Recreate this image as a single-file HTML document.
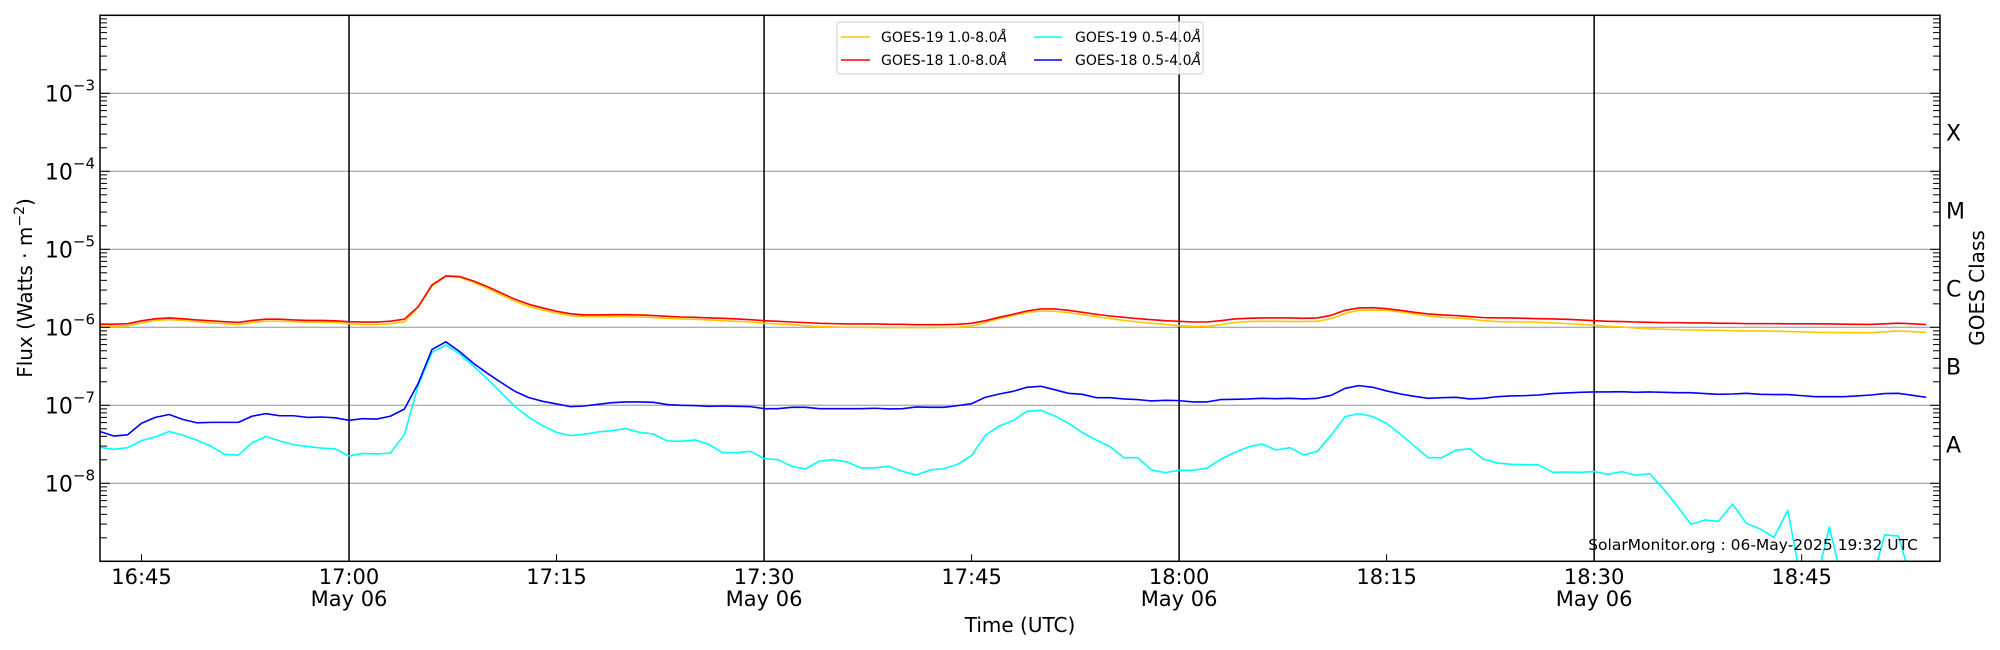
<!DOCTYPE html>
<html><head><meta charset="utf-8"><style>
html,body{margin:0;padding:0;background:#fff;}
svg{display:block;font-family:"DejaVu Sans","Liberation Sans",sans-serif;}
</style></head><body>
<svg id="chart" width="2000" height="650" viewBox="0 0 2000 650" xmlns="http://www.w3.org/2000/svg">
<defs><clipPath id="plotclip"><rect x="100" y="15" width="1840" height="546"/></clipPath></defs>
<rect x="0" y="0" width="2000" height="650" fill="#fff"/>
<g id="grid"></g>
<g id="vlines"></g>
<g id="series" clip-path="url(#plotclip)"></g>
<g id="axes"></g>
<rect x="100" y="15.3" width="1840" height="546" fill="none" stroke="#000" stroke-width="1.5"/>
<text transform="translate(32,288) rotate(-90)" text-anchor="middle" font-size="20">Flux (Watts · m<tspan font-size="14" dy="-8">−2</tspan><tspan dy="8">)</tspan></text>
<text transform="translate(1984,288) rotate(-90)" text-anchor="middle" font-size="20">GOES Class</text>
<text x="1020" y="632" text-anchor="middle" font-size="20">Time (UTC)</text>
<text x="1918" y="550" text-anchor="end" font-size="15.5">SolarMonitor.org : 06-May-2025 19:32 UTC</text>
<g>
<rect x="837" y="22" width="366" height="52" rx="3" fill="#fff" fill-opacity="0.85" stroke="#ccc" stroke-width="1"/>
<g><line x1="841" y1="37" x2="870" y2="37" stroke="#ffc800" stroke-width="1.5"/><text x="881" y="42" font-size="14">GOES-19 1.0-8.0<tspan font-style="italic">Å</tspan></text></g>
<g><line x1="841" y1="60" x2="870" y2="60" stroke="#ff0000" stroke-width="1.5"/><text x="881" y="65" font-size="14">GOES-18 1.0-8.0<tspan font-style="italic">Å</tspan></text></g>
<g><line x1="1034" y1="37" x2="1062" y2="37" stroke="#00ffff" stroke-width="1.5"/><text x="1075" y="42" font-size="14">GOES-19 0.5-4.0<tspan font-style="italic">Å</tspan></text></g>
<g><line x1="1034" y1="60" x2="1062" y2="60" stroke="#0000ff" stroke-width="1.5"/><text x="1075" y="65" font-size="14">GOES-18 0.5-4.0<tspan font-style="italic">Å</tspan></text></g>
</g>
</svg>
<script>
// Data: log10 flux (W/m^2), one sample per minute starting 16:42 UTC
const startMinute = 16*60+42;
const g18Long = [-5.96,-5.96,-5.954,-5.917,-5.891,-5.88,-5.891,-5.906,-5.917,-5.928,-5.938,-5.912,-5.896,-5.896,-5.906,-5.912,-5.912,-5.917,-5.928,-5.933,-5.933,-5.922,-5.896,-5.736,-5.457,-5.342,-5.35,-5.406,-5.479,-5.56,
-5.641,-5.705,-5.752,-5.795,-5.825,-5.842,-5.842,-5.838,-5.838,-5.842,-5.85,-5.859,-5.868,-5.872,-5.88,-5.885,-5.893,-5.902,-5.915,-5.923,-5.932,-5.94,-5.949,
-5.953,-5.957,-5.957,-5.957,-5.962,-5.962,-5.966,-5.966,-5.966,-5.962,-5.949,-5.915,-5.872,-5.833,-5.791,-5.765,-5.765,-5.782,-5.808,-5.833,-5.855,-5.872,-5.889,-5.902,-5.915,-5.923,-5.932,-5.932,-5.915,-5.893,-5.885,-5.88,-5.88,-5.88,
-5.885,-5.88,-5.846,-5.782,-5.752,-5.748,-5.761,-5.782,-5.808,-5.829,-5.842,-5.85,-5.863,-5.876,-5.88,-5.88,-5.885,-5.889,-5.893,-5.897,-5.906,-5.915,-5.923,-5.927,-5.932,-5.936,-5.94,-5.94,-5.944,-5.944,-5.949,-5.949,-5.953,-5.953,
-5.953,-5.955,-5.955,-5.955,-5.957,-5.96,-5.962,-5.963,-5.955,-5.947,-5.955,-5.965];
const g19Long = [-5.986,-5.986,-5.981,-5.944,-5.912,-5.901,-5.912,-5.928,-5.944,-5.954,-5.965,-5.938,-5.922,-5.922,-5.928,-5.933,-5.933,-5.938,-5.954,-5.965,-5.965,-5.954,-5.932,
-5.744,-5.47,-5.346,-5.359,-5.423,-5.5,-5.585,-5.667,-5.731,-5.778,-5.821,-5.85,-5.863,-5.863,-5.863,-5.863,-5.868,-5.876,-5.885,-5.893,-5.897,-5.906,-5.915,-5.923,-5.932,-5.949,-5.957,-5.966,-5.979,-5.991,
-5.996,-6.0,-6.0,-6.002,-6.004,-6.004,-6.004,-6.004,-6.002,-6.0,-5.983,-5.94,-5.889,-5.85,-5.812,-5.791,-5.795,-5.812,-5.838,-5.863,-5.889,-5.91,-5.932,-5.949,-5.962,-5.979,-5.987,-5.987,-5.966,-5.94,-5.927,-5.923,-5.923,-5.927,
-5.927,-5.923,-5.889,-5.821,-5.782,-5.778,-5.782,-5.803,-5.829,-5.855,-5.872,-5.88,-5.893,-5.915,-5.927,-5.932,-5.932,-5.936,-5.944,-5.953,-5.962,-5.974,-5.987,-5.996,-6.008,-6.02,-6.025,-6.03,-6.034,-6.038,-6.038,-6.043,-6.047,-6.047,
-6.05,-6.055,-6.058,-6.064,-6.066,-6.068,-6.069,-6.069,-6.058,-6.048,-6.055,-6.064];
const g18Short = [-7.336,-7.394,-7.378,-7.23,-7.155,-7.118,-7.182,-7.224,-7.219,-7.219,-7.219,-7.139,-7.107,-7.134,-7.134,-7.155,-7.15,-7.16,-7.192,-7.171,-7.176,-7.139,-7.049,-6.719,-6.284,-6.186,-6.312,-6.462,-6.59,-6.709,
-6.821,-6.902,-6.949,-6.983,-7.017,-7.009,-6.987,-6.966,-6.957,-6.957,-6.962,-6.991,-7.0,-7.004,-7.013,-7.009,-7.013,-7.017,-7.043,-7.043,-7.026,-7.026,-7.043,
-7.043,-7.043,-7.043,-7.038,-7.047,-7.043,-7.021,-7.026,-7.026,-7.004,-6.979,-6.897,-6.855,-6.821,-6.769,-6.756,-6.8,
-6.846,-6.859,-6.902,-6.902,-6.919,-6.927,-6.944,-6.936,-6.94,-6.957,-6.957,-6.927,-6.923,-6.919,-6.91,-6.915,-6.91,-6.919,-6.91,-6.872,-6.782,-6.748,-6.769,-6.816,-6.855,-6.885,-6.91,-6.902,-6.897,-6.919,-6.91,-6.889,-6.88,-6.876,-6.868,
-6.85,-6.842,-6.833,-6.829,-6.829,-6.825,-6.833,-6.829,-6.833,-6.838,-6.838,-6.85,-6.859,-6.855,-6.846,-6.859,-6.863,-6.863,-6.876,-6.889,-6.889,-6.889,-6.88,-6.868,-6.85,-6.846,-6.872,-6.897];
const g19Short = [-7.538,-7.564,-7.543,-7.453,-7.405,-7.336,-7.384,-7.447,-7.522,-7.628,-7.639,-7.479,-7.4,-7.458,-7.506,-7.527,-7.548,-7.559,-7.649,-7.617,-7.623,-7.612,-7.378,-6.746,-6.321,
-6.226,-6.342,-6.496,-6.662,-6.838,-7.017,-7.154,-7.261,-7.346,
-7.389,-7.372,-7.342,-7.325,-7.299,-7.346,-7.368,-7.457,-7.462,-7.444,-7.5,-7.607,-7.607,-7.59,-7.684,-7.697,-7.782,-7.816,-7.714,-7.697,-7.726,-7.803,-7.803,-7.782,-7.846,-7.893,-7.829,-7.812,-7.756,-7.645,-7.385,-7.265,-7.197,-7.077,-7.064,-7.135,
-7.231,-7.35,-7.444,-7.53,-7.671,-7.671,-7.829,-7.863,-7.833,-7.833,-7.808,-7.692,-7.607,-7.534,-7.496,-7.573,-7.543,-7.637,-7.59,-7.38,-7.145,-7.107,-7.145,-7.231,-7.372,-7.521,-7.671,-7.671,-7.577,-7.556,-7.692,-7.739,
-7.756,-7.761,-7.765,-7.859,-7.855,-7.859,-7.85,-7.885,-7.85,-7.897,-7.876,-8.068,-8.291,-8.526,-8.47,-8.487,-8.265,-8.513,-8.585,-8.692,-8.346,-9.3,-9.3,-8.56,-9.3,-9.3,-9.3,-8.662,-8.675,-9.3,-9.3];
const yTickExps = [-3,-4,-5,-6,-7,-8];
const classLabels = ["X","M","C","B","A"];
const classExps = [-3.5,-4.5,-5.5,-6.5,-7.5];
const xTickMinutes = [16*60+45,17*60,17*60+15,17*60+30,17*60+45,18*60,18*60+15,18*60+30,18*60+45];
const xTickLabels = ["16:45","17:00","17:15","17:30","17:45","18:00","18:15","18:30","18:45"];
const dayMarkMinutes = [17*60,17*60+30,18*60,18*60+30];

const NS="http://www.w3.org/2000/svg";
const X0=100,X1=1940,Y0=15.3,Y1=561.3;
const tMin=16*60+42, tMax=18*60+55, lgMax=-2, lgMin=-9;
function xs(m){return X0+(m-tMin)/(tMax-tMin)*(X1-X0);}
function ys(l){return Y0+(lgMax-l)/(lgMax-lgMin)*(Y1-Y0);}
function mk(tag,attrs,parent){const e=document.createElementNS(NS,tag);for(const k in attrs)e.setAttribute(k,attrs[k]);parent.appendChild(e);return e;}

const grid=document.getElementById('grid'),axes=document.getElementById('axes'),series=document.getElementById('series'),vl=document.getElementById('vlines');
yTickExps.forEach(e=>{
  const y=ys(e);
  const g=mk('line',{x1:X0,x2:X1,y1:y,y2:y,stroke:'#b0b0b0','stroke-width':1.3},grid);
  
  
  const t=mk('text',{x:95,y:y+8,'text-anchor':'end','font-size':22},axes);
  
  
  t.innerHTML='10<tspan font-size="15" dy="-11">−'+(-e)+'</tspan>';
});
// log ticks
for(let d=-9;d<-2;d++){
  for(let m=1;m<10;m++){
    const y=ys(d+Math.log10(m));
    const len=m===1?10:7;
    const a=mk('line',{x1:X0,x2:X0+len,y1:y,y2:y,stroke:'#000','stroke-width':1},axes);
    
    
    const b=mk('line',{x1:X1-len,x2:X1,y1:y,y2:y,stroke:'#000','stroke-width':1},axes);
    
    
  }
}
classLabels.forEach((c,i)=>{
  const t=mk('text',{x:1946,y:ys(classExps[i])+8,'font-size':22},axes);
  
  
  t.textContent=c;
});
dayMarkMinutes.forEach(m=>{
  const l=mk('line',{x1:xs(m),x2:xs(m),y1:Y0,y2:Y1,stroke:'#000','stroke-width':1.5},vl);
  
  
});
xTickMinutes.forEach((m,i)=>{
  const x=xs(m);
  const tk=mk('line',{x1:x,x2:x,y1:Y1,y2:Y1-7,stroke:'#000','stroke-width':1},axes);
  
  
  const t=mk('text',{x:x,y:584,'text-anchor':'middle','font-size':21},axes);
  
  
  t.textContent=xTickLabels[i];
  if(m%30===0){
    const t2=mk('text',{x:x,y:606,'text-anchor':'middle','font-size':21},axes);
    
    
    t2.textContent='May 06';
  }
});
function drawSeries(arr,color,name){
  const pts=arr.map((v,i)=>xs(startMinute+i).toFixed(2)+','+ys(v).toFixed(2)).join(' ');
  const p=mk('polyline',{points:pts,fill:'none',stroke:color,'stroke-width':1.6,'stroke-linejoin':'round'},series);
  
  
}
drawSeries(g19Long,'#ffc800','series-goes19-long');
drawSeries(g18Long,'#ff0000','series-goes18-long');
drawSeries(g19Short,'#00ffff','series-goes19-short');
drawSeries(g18Short,'#0000ff','series-goes18-short');
</script>
</body></html>
